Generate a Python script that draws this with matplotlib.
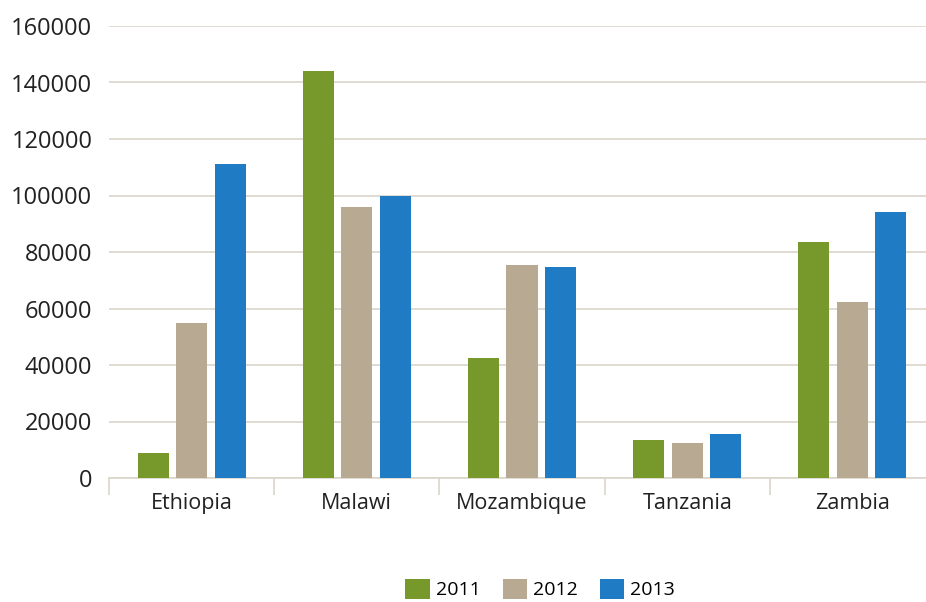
import matplotlib.pyplot as plt
import numpy as np

countries = ["Ethiopia", "Malawi", "Mozambique", "Tanzania", "Zambia"]
years = ["2011", "2012", "2013"]
v2011 = [9000, 144000, 42500, 13500, 83500]
v2012 = [55000, 96000, 75400, 12400, 62300]
v2013 = [111000, 100000, 74700, 15600, 94200]

colors = ["#77992b", "#b8aa92", "#1f7bc3"]
grid_col = "#dcd6cb"

plt.rcParams['font.family'] = ['Open Sans', 'DejaVu Sans']

fig = plt.figure(figsize=(9.26, 6.02), dpi=100)
ax = fig.add_axes([109 / 926, 124 / 602, 826 / 926, 452 / 602])

x = np.arange(len(countries))
width = 0.188
step = 0.233
for i, (vals, yr) in enumerate(zip([v2011, v2012, v2013], years)):
    ax.bar(x + (i - 1) * step, vals, width=width, color=colors[i], label=yr, zorder=3)

ax.set_xlim(-0.5, 4.5)
ax.set_ylim(0, 160000)
ax.set_yticks(np.arange(0, 160001, 20000))
ax.set_yticklabels([str(v) for v in range(0, 160001, 20000)], fontsize=17, color="#222222")
ax.grid(axis='y', color=grid_col, linewidth=1.2, zorder=0)

ax.set_xticks(x)
ax.set_xticklabels(countries, fontsize=15.5, color="#222222")
ax.set_xticks(np.arange(-0.5, 4.6, 1), minor=True)
ax.tick_params(axis='x', which='major', length=0, pad=11)
ax.tick_params(axis='x', which='minor', length=12, color=grid_col, width=1.2)
ax.tick_params(axis='y', length=0, pad=12)

for s in ['top', 'right', 'left']:
    ax.spines[s].set_visible(False)
ax.spines['bottom'].set_color(grid_col)
ax.spines['bottom'].set_linewidth(1.2)

ax.legend(loc='lower center', bbox_to_anchor=(0.522, -0.286), ncol=3, frameon=False,
          fontsize=14, handlelength=1.25, handleheight=1.25, handletextpad=0.3, columnspacing=1.15,
          borderaxespad=0)

plt.savefig("out.png", dpi=100)
